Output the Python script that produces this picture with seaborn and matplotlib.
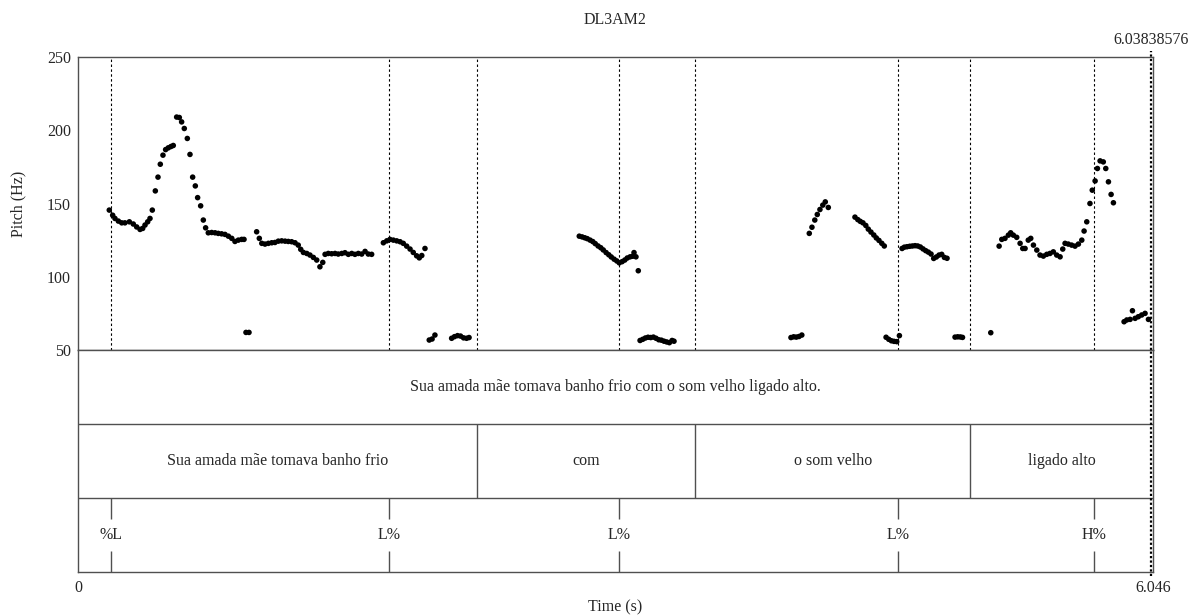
import numpy as np
import pandas as pd
import matplotlib
matplotlib.use("Agg")
import matplotlib.pyplot as plt
import seaborn as sns

# ---------------- data ----------------
TITLE = "DL3AM2"
T_START = 0.0
T_END = 6.046
CURSOR_T = 6.03838576
Y_MIN, Y_MAX = 50, 250
Y_TICKS = [50, 100, 150, 200, 250]

seg1_t = [0.176, 0.195, 0.208, 0.227, 0.246, 0.264, 0.289, 0.311, 0.330, 0.349, 0.364, 0.377,
          0.392, 0.405, 0.418, 0.435, 0.450, 0.463, 0.478, 0.493, 0.508, 0.523, 0.536, 0.555,
          0.570, 0.583, 0.598, 0.615, 0.630, 0.645, 0.660, 0.673, 0.690, 0.705, 0.718, 0.733,
          0.752, 0.771, 0.789, 0.808, 0.827, 0.846, 0.865, 0.883, 0.902, 0.921, 0.934]
seg1_f = [145.5, 142.0, 139.8, 138.0, 136.8, 136.8, 137.5, 136.0, 134.0, 132.3, 133.0, 135.3,
          137.5, 139.8, 145.5, 158.6, 168.0, 176.8, 183.0, 186.8, 188.0, 188.9, 189.6, 209.0,
          208.7, 205.7, 201.2, 194.4, 183.5, 168.0, 162.0, 154.0, 148.4, 138.7, 133.4, 130.0,
          130.2, 130.0, 129.6, 129.3, 128.9, 127.7, 126.2, 124.1, 125.0, 125.5, 125.5]
low0_t = [0.945, 0.962]
low0_f = [62.0, 62.0]
seg2_t = [1.005, 1.020, 1.034, 1.052, 1.071, 1.090, 1.108, 1.127, 1.146, 1.165, 1.183, 1.202,
          1.221, 1.239, 1.253, 1.268, 1.287, 1.305, 1.324, 1.343, 1.361, 1.377, 1.390, 1.408,
          1.427, 1.446, 1.464, 1.484, 1.502, 1.521, 1.540, 1.558, 1.577, 1.596, 1.615, 1.633, 1.652]
seg2_f = [130.7, 126.2, 122.8, 122.3, 122.8, 123.2, 123.4, 124.3, 124.5, 124.3, 124.1, 123.9,
          123.2, 121.6, 118.7, 116.6, 115.9, 114.8, 113.2, 111.4, 106.8, 109.8, 115.3, 115.9,
          115.7, 115.9, 115.5, 115.9, 116.4, 115.3, 115.9, 115.3, 115.9, 115.5, 117.3, 115.5, 115.3]
seg3_t = [1.718, 1.737, 1.755, 1.774, 1.793, 1.812, 1.830, 1.849, 1.868, 1.886, 1.905, 1.920,
          1.934, 1.952]
seg3_f = [123.2, 124.5, 125.5, 125.0, 124.5, 123.9, 122.8, 120.9, 118.9, 116.6, 114.3, 112.9,
          114.5, 119.3]
low1_t = [1.976, 1.992, 2.008]
low1_f = [56.8, 57.5, 60.2]
low2_t = [2.102, 2.118, 2.135, 2.152, 2.169, 2.186, 2.200]
low2_f = [58.0, 59.1, 59.8, 59.5, 58.3, 58.0, 58.5]
seg4_t = [2.820, 2.836, 2.851, 2.865, 2.881, 2.896, 2.910, 2.926, 2.941, 2.955, 2.971, 2.986,
          3.000, 3.016, 3.031, 3.045, 3.061, 3.076, 3.090, 3.106, 3.121, 3.128, 3.139, 3.152]
seg4_f = [127.7, 127.2, 126.6, 126.0, 125.0, 124.0, 122.6, 121.0, 119.8, 118.3, 116.5, 115.0,
          113.5, 112.0, 110.8, 109.5, 110.3, 111.4, 112.8, 113.6, 114.0, 116.5, 113.6, 104.1]
low3_t = [3.162, 3.177, 3.192, 3.207, 3.222, 3.237, 3.252, 3.267, 3.282, 3.297, 3.312, 3.327,
          3.342, 3.353]
low3_f = [56.5, 57.3, 58.2, 58.7, 58.5, 58.8, 58.0, 57.0, 56.7, 56.0, 55.5, 55.0, 56.5, 56.0]
low4_t = [4.011, 4.026, 4.041, 4.056, 4.072]
low4_f = [58.5, 59.0, 58.8, 59.2, 60.2]
seg5_t = [4.114, 4.129, 4.145, 4.159, 4.174, 4.190, 4.204, 4.221]
seg5_f = [129.6, 133.8, 138.7, 142.5, 145.9, 148.9, 151.1, 147.3]
seg6_t = [4.371, 4.387, 4.401, 4.416, 4.432, 4.446, 4.461, 4.477, 4.491, 4.506, 4.522, 4.536]
seg6_f = [140.7, 139.0, 137.8, 136.8, 135.0, 132.5, 130.5, 128.5, 126.5, 124.8, 122.8, 121.0]
low5_t = [4.546, 4.561, 4.576, 4.591, 4.606, 4.621]
low5_f = [58.7, 57.3, 56.3, 55.9, 55.7, 59.8]
seg7_t = [4.636, 4.649, 4.664, 4.679, 4.694, 4.709, 4.724, 4.739, 4.754, 4.769, 4.784, 4.799,
          4.814, 4.829, 4.844, 4.859, 4.874, 4.889]
seg7_f = [119.3, 120.2, 120.5, 120.8, 121.0, 121.2, 121.0, 120.3, 119.0, 117.8, 116.8, 115.5,
          112.5, 113.5, 114.8, 115.3, 113.2, 112.6]
low6_t = [4.934, 4.949, 4.964, 4.976]
low6_f = [58.8, 59.0, 58.9, 58.6]
iso_t = [5.135]
iso_f = [61.8]
seg8_t = [5.182, 5.197, 5.215, 5.234, 5.247, 5.262, 5.281, 5.300, 5.315, 5.328, 5.346, 5.360,
          5.375, 5.394, 5.412, 5.431, 5.450, 5.468, 5.487, 5.506, 5.525, 5.540, 5.553, 5.571,
          5.590, 5.609, 5.628, 5.647, 5.660, 5.675, 5.693, 5.706, 5.722, 5.735, 5.750, 5.768,
          5.782, 5.797, 5.812, 5.825]
seg8_f = [120.9, 125.5, 126.2, 128.4, 130.0, 128.4, 126.9, 122.8, 119.3, 119.3, 125.0, 126.2,
          121.6, 118.2, 114.8, 114.1, 115.3, 115.9, 117.0, 114.8, 113.6, 118.9, 122.8, 122.3,
          121.6, 120.9, 122.3, 125.0, 131.2, 137.5, 150.0, 159.1, 165.4, 173.9, 179.1, 178.4,
          173.9, 164.8, 156.2, 150.5]
seg9_t = [5.885, 5.900, 5.919, 5.932, 5.947, 5.965, 5.984, 6.003, 6.022]
seg9_f = [69.3, 70.5, 70.9, 76.8, 71.6, 72.7, 73.9, 75.0, 70.9]

# TextGrid tiers
tier1_bounds = [0.0, 6.046]
tier1_labels = ["Sua amada mãe tomava banho frio com o som velho ligado alto."]
tier2_bounds = [0.0, 2.246, 3.473, 5.020, 6.046]
tier2_labels = ["Sua amada mãe tomava banho frio", "com", "o som velho", "ligado alto"]
tier3_times = [0.187, 1.748, 3.044, 4.615, 5.716]
tier3_labels = ["%L", "L%", "L%", "L%", "H%"]

# ---------------- build ----------------
seg_t = [seg1_t, low0_t, seg2_t, seg3_t, low1_t, low2_t, seg4_t, low3_t, low4_t, seg5_t,
         seg6_t, low5_t, seg7_t, low6_t, iso_t, seg8_t, seg9_t]
seg_f = [seg1_f, low0_f, seg2_f, seg3_f, low1_f, low2_f, seg4_f, low3_f, low4_f, seg5_f,
         seg6_f, low5_f, seg7_f, low6_f, iso_f, seg8_f, seg9_f]
df = pd.DataFrame({"time": np.concatenate(seg_t), "pitch": np.concatenate(seg_f)})

sns.set_theme(style="white")
plt.rcParams["font.family"] = ["Liberation Serif", "DejaVu Serif"]
FS = 11.5
FRAME = "#505050"

W, H = 1194, 615
fig = plt.figure(figsize=(W / 100, H / 100), dpi=100)
L, R = 78 / W, 1152.7 / W
top_px, mid_px, bot_px = 57, 350, 572
ax_p = fig.add_axes([L, 1 - mid_px / H, R - L, (mid_px - top_px) / H])
ax_t = fig.add_axes([L, 1 - bot_px / H, R - L, (bot_px - mid_px) / H], sharex=ax_p)

# pitch points
sns.scatterplot(data=df, x="time", y="pitch", color="black", s=16, edgecolor="none",
                linewidth=0, ax=ax_p, zorder=3)
ax_p.set_xlim(T_START, T_END)
ax_p.set_ylim(Y_MIN, Y_MAX)
ax_p.set_yticks(Y_TICKS)
ax_p.set_yticklabels([str(v) for v in Y_TICKS], fontsize=FS)
ax_p.tick_params(axis="y", direction="out", length=4, width=0.8, color=FRAME, pad=1)
ax_p.tick_params(axis="x", bottom=False, labelbottom=False)
ax_p.set_xlabel("")
ax_p.set_ylabel("Pitch (Hz)", fontsize=FS, labelpad=15)
for sp in ax_p.spines.values():
    sp.set_color(FRAME)
    sp.set_linewidth(1.0)

# boundary lines in pitch area
bounds_all = sorted(set(tier2_bounds[1:-1] + tier3_times))
for b in bounds_all:
    ax_p.axvline(b, color="black", lw=0.8, ls=(0, (2.2, 2.2)), zorder=1)

# cursor line
ax_p.axvline(CURSOR_T, ymin=0, ymax=1.02, color="black", lw=1.6, ls=(0, (1, 1)),
             clip_on=False, zorder=4)
ax_t.axvline(CURSOR_T, ymin=-0.02, ymax=1, color="black", lw=1.6, ls=(0, (1, 1)),
             clip_on=False, zorder=4)
ax_p.annotate(f"{CURSOR_T:.8f}", xy=(CURSOR_T, Y_MAX), xytext=(0, 12),
              textcoords="offset points", ha="center", va="center", fontsize=FS,
              annotation_clip=False)

# title
fig.text((78 + 1152.7) / 2 / W, 1 - 20 / H, TITLE, ha="center", va="center", fontsize=FS)

# tiers
ax_t.set_ylim(0, 3)
ax_t.set_yticks([])
for sp in ax_t.spines.values():
    sp.set_color(FRAME)
    sp.set_linewidth(1.0)
ax_t.axhline(2, color=FRAME, lw=1.0)
ax_t.axhline(1, color=FRAME, lw=1.0)

# tier 1
for i, lab in enumerate(tier1_labels):
    ax_t.text((tier1_bounds[i] + tier1_bounds[i + 1]) / 2, 2.5, lab, ha="center",
              va="center", fontsize=FS)
# tier 2
ax_t.vlines(tier2_bounds[1:-1], 1, 2, color=FRAME, lw=1.0)
for i, lab in enumerate(tier2_labels):
    ax_t.text((tier2_bounds[i] + tier2_bounds[i + 1]) / 2, 1.5, lab, ha="center",
              va="center", fontsize=FS)
# tier 3 (point tier)
ax_t.vlines(tier3_times, 0.72, 1.0, color=FRAME, lw=1.0)
ax_t.vlines(tier3_times, 0.0, 0.28, color=FRAME, lw=1.0)
for t, lab in zip(tier3_times, tier3_labels):
    ax_t.text(t, 0.5, lab, ha="center", va="center", fontsize=FS)

ax_t.set_xticks([T_START, T_END])
ax_t.set_xticklabels(["0", f"{T_END:.3f}"], fontsize=FS)
ax_t.tick_params(axis="x", direction="out", length=4, width=0.8, color=FRAME, pad=2)
ax_t.set_xlabel("Time (s)", fontsize=FS, labelpad=2)

fig.savefig("out.png", dpi=100)
